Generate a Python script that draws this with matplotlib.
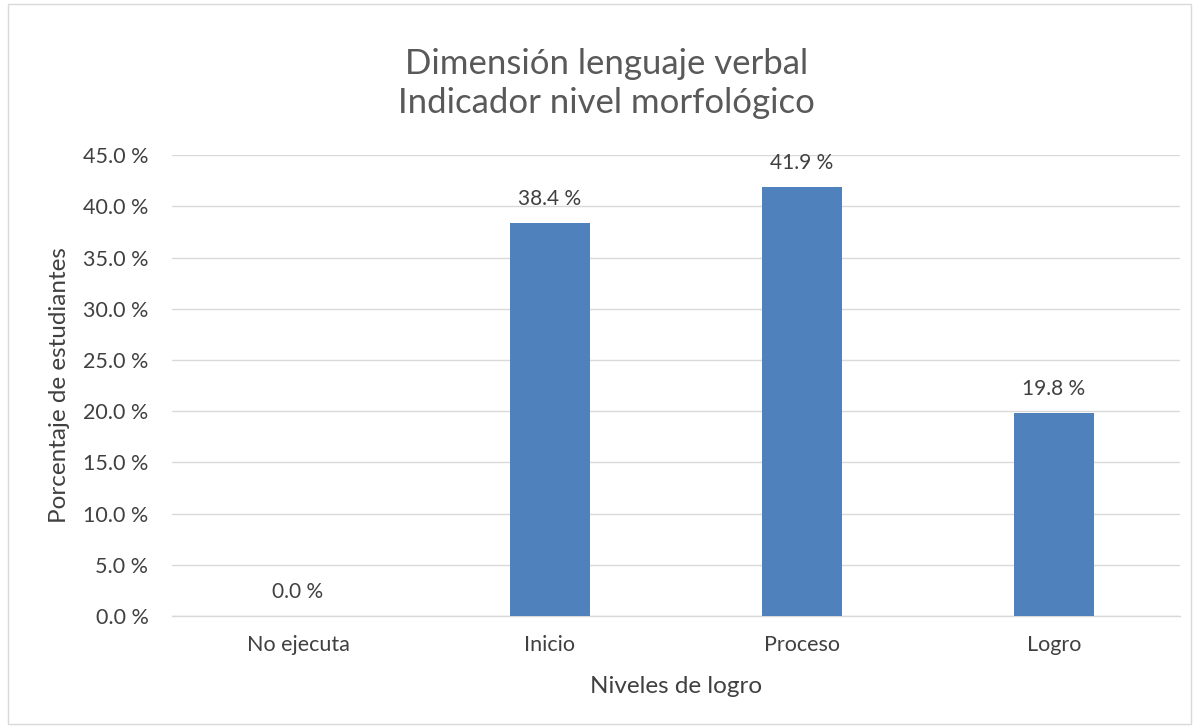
import numpy as np
import matplotlib as mpl
mpl.use("Agg")
import matplotlib.pyplot as plt
from matplotlib.patches import Rectangle

# data
niveles = ["No ejecuta", "Inicio", "Proceso", "Logro"]
porcentajes = [0.0, 38.4, 41.9, 19.8]
y_ticks = [0, 5, 10, 15, 20, 25, 30, 35, 40, 45]

mpl.rcParams['font.family'] = ['Lato', 'DejaVu Sans']

C_BAR = "#4F81BD"
C_GRID = "#D9D9D9"
C_TEXT = "#404040"
C_TITLE = "#595959"

fig = plt.figure(figsize=(11.99, 7.28), dpi=100)
ax = fig.add_axes([0.1435, 0.1538, 0.8405, 0.6332])

x = np.arange(len(niveles))
ax.bar(x, porcentajes, width=0.32, color=C_BAR, zorder=3)

for xi, v in zip(x, porcentajes):
    ax.annotate(f"{v:.1f} %", (xi, v), xytext=(0, 10), textcoords="offset points",
                ha="center", va="bottom", fontsize=15, color=C_TEXT)

ax.set_xlim(-0.5, len(niveles) - 0.5)
ax.set_ylim(0, 45)
ax.set_yticks(y_ticks)
ax.set_yticklabels([f"{t:.1f} %" for t in y_ticks])
ax.set_xticks(x)
ax.set_xticklabels(niveles)
ax.tick_params(axis="both", length=0, labelsize=15.5, labelcolor=C_TEXT)
ax.tick_params(axis="y", pad=17)
ax.tick_params(axis="x", pad=14)

ax.grid(True, axis="y", color=C_GRID, linewidth=1.0)
ax.set_axisbelow(True)
for s in ["top", "right", "left"]:
    ax.spines[s].set_visible(False)
ax.spines["bottom"].set_color(C_GRID)
ax.spines["bottom"].set_linewidth(1.0)

ax.set_xlabel("Niveles de logro", fontsize=17.5, color=C_TEXT, labelpad=15)
ax.set_ylabel("Porcentaje de estudiantes", fontsize=17.5, color=C_TEXT, labelpad=9)

fig.text(0.506, 0.885, "Dimensión lenguaje verbal\nIndicador nivel morfológico",
         ha="center", va="center", fontsize=25, color=C_TITLE, linespacing=1.25)

fig.patches.append(Rectangle((0.007, 0.006), 0.986, 0.988, transform=fig.transFigure,
                             fill=False, edgecolor=C_GRID, linewidth=1.0))

fig.savefig("out.png", dpi=100)
